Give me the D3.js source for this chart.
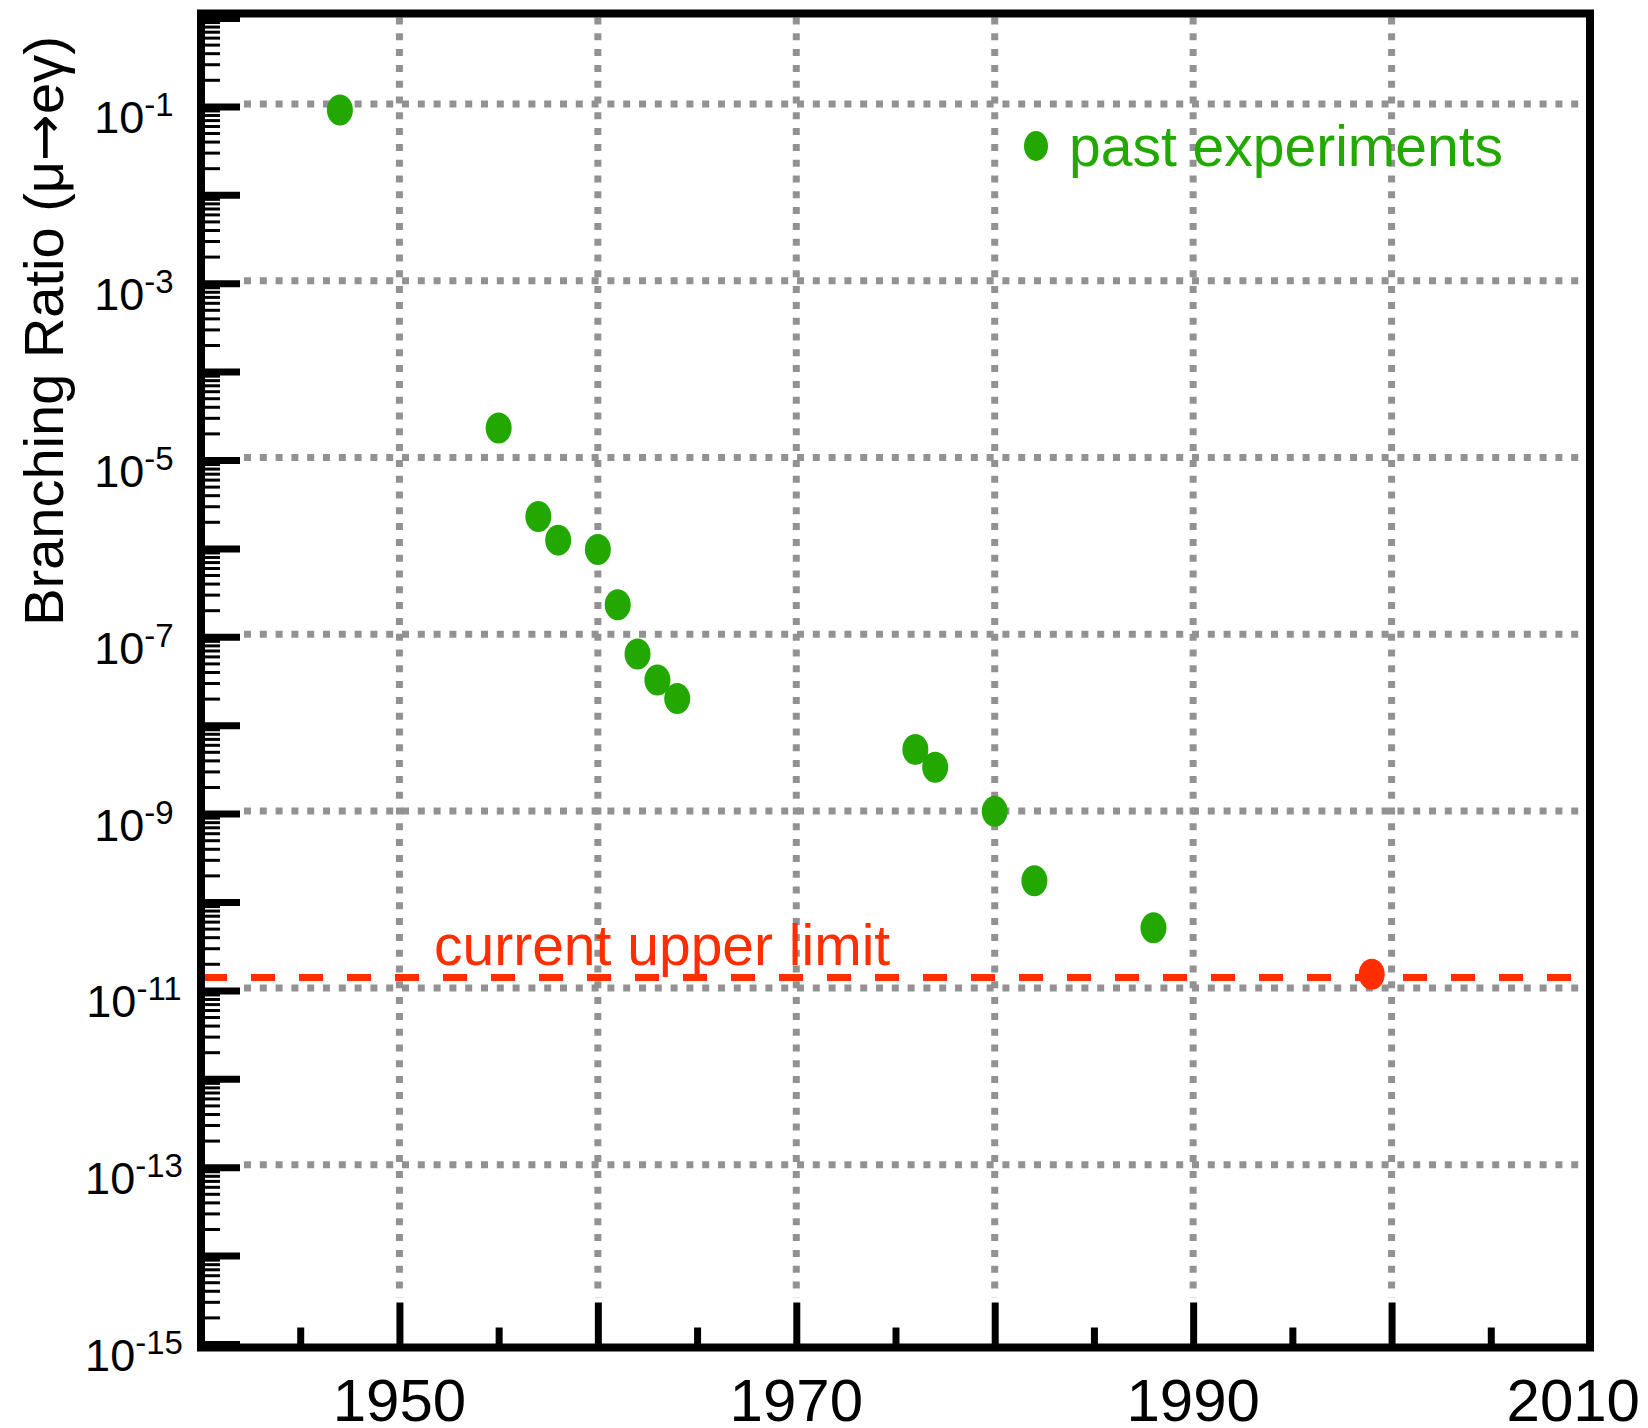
<!DOCTYPE html>
<html>
<head>
<meta charset="utf-8">
<script src="https://cdn.jsdelivr.net/npm/d3@7"></script>
<style>
  body { margin: 0; background: #fff; }
  text { font-family: "Liberation Sans", Arial, Helvetica, sans-serif; }
</style>
</head>
<body>
<svg id="chart"></svg>
<script>
// ============ DATA ============
const years = [1947, 1955, 1957, 1958, 1960, 1961, 1962, 1963, 1964, 1976, 1977, 1980, 1982, 1988];
const ratios = [9.1e-2, 2.3e-5, 2.3e-6, 1.24e-6, 9.7e-7, 2.3e-7, 6.4e-8, 3.25e-8, 2.0e-8, 5.3e-9, 3.35e-9, 1.06e-9, 1.74e-10, 5.1e-11];
const currentYear = [1999];
const currentRatio = [1.52e-11];
const upperLimit = 1.4e-11;

const xMajor = [1950, 1960, 1970, 1980, 1990, 2000];
const xMinor = [1945, 1955, 1965, 1975, 1985, 1995, 2005];
const xLabels = [1950, 1970, 1990, 2010];
const yExpLabels = [-1, -3, -5, -7, -9, -11, -13, -15];

const green = "#22a800", red = "#ff2e00", grid = "#929292";

// ============ LAYOUT ============
const W = 1648, H = 1428;
const x0 = 201, x1 = 1590, yTop = 13.5, yBot = 1347.5;

const svg = d3.select("#chart").attr("width", W).attr("height", H);

const x = d3.scaleLinear().domain([1940, 2010]).range([x0, x1]);
const y = d3.scaleLog().domain([1e-15, 1]).range([1344, 18]);

let yMajor = d3.range(-15, 1).map(e => Math.pow(10, e));
let yMinor = [];
for (let e = -15; e < 0; e++) {
  for (let m = 2; m <= 9; m++) yMinor.push(m * Math.pow(10, e));
}

// ============ GRID ============
const gridG = svg.append("g")
  .attr("stroke", grid).attr("stroke-width", 7).attr("stroke-dasharray", "7 8.8");

gridG.selectAll("line.h").data(yExpLabels.filter(e => e > -15)).enter()
  .append("line")
  .attr("x1", x0 + 43).attr("x2", x1 - 4)
  .attr("y1", d => y(Math.pow(10, d)) - 2.5).attr("y2", d => y(Math.pow(10, d)) - 2.5);

gridG.selectAll("line.v").data(xMajor).enter()
  .append("line")
  .attr("x1", d => x(d)).attr("x2", d => x(d))
  .attr("y1", yTop + 4).attr("y2", yBot - 50);

// ============ UPPER LIMIT LINE ============
svg.append("line")
  .attr("x1", x0 + 2).attr("x2", x1 - 4)
  .attr("y1", y(upperLimit)).attr("y2", y(upperLimit))
  .attr("stroke", red).attr("stroke-width", 7).attr("stroke-dasharray", "24 24");

svg.append("text")
  .attr("x", 434).attr("y", y(upperLimit) - 12)
  .attr("font-size", 57).attr("fill", red)
  .text("current upper limit");

// ============ POINTS ============
const pts = years.map((yr, i) => ({ year: yr, value: ratios[i] }));
svg.append("g").selectAll("ellipse").data(pts).enter()
  .append("ellipse")
  .attr("cx", d => x(d.year)).attr("cy", d => y(d.value))
  .attr("rx", 13).attr("ry", 15.5)
  .attr("fill", green);

svg.append("g").selectAll("ellipse").data(currentYear.map((yr, i) => ({ year: yr, value: currentRatio[i] }))).enter()
  .append("ellipse")
  .attr("cx", d => x(d.year)).attr("cy", d => y(d.value))
  .attr("rx", 13).attr("ry", 15.5)
  .attr("fill", red);

// ============ LEGEND ============
svg.append("ellipse").attr("cx", 1036).attr("cy", 146).attr("rx", 12).attr("ry", 15).attr("fill", green);
svg.append("text").attr("x", 1069).attr("y", 166)
  .attr("font-size", 57).attr("fill", green).text("past experiments");

// ============ AXES ============
function styleTicks(g, w) {
  g.select(".domain").remove();
  g.selectAll(".tick line").attr("stroke", "#000").attr("stroke-width", w);
}

svg.append("g").attr("transform", `translate(${x0},0)`)
  .call(d3.axisRight(y).tickValues(yMinor).tickSize(19).tickFormat(""))
  .call(g => styleTicks(g, 3));

svg.append("g").attr("transform", `translate(${x0},0)`)
  .call(d3.axisRight(y).tickValues(yMajor).tickSize(39).tickFormat(""))
  .call(g => styleTicks(g, 7));

svg.append("g").attr("transform", `translate(0,${yBot})`)
  .call(d3.axisTop(x).tickValues(xMinor).tickSize(20).tickFormat(""))
  .call(g => styleTicks(g, 7));

svg.append("g").attr("transform", `translate(0,${yBot})`)
  .call(d3.axisTop(x).tickValues(xMajor).tickSize(45).tickFormat(""))
  .call(g => styleTicks(g, 7));

// y tick labels with superscript exponents
const yl = svg.append("g").selectAll("text").data(yExpLabels).enter()
  .append("text")
  .attr("x", 134).attr("y", d => y(Math.pow(10, d)) + 27)
  .attr("text-anchor", "middle")
  .attr("font-size", 45).attr("fill", "#000");
yl.append("tspan").text("10");
yl.append("tspan").attr("font-size", 33).attr("dy", -17).text(d => String(d));

// x tick labels
svg.append("g").selectAll("text").data(xLabels).enter()
  .append("text")
  .attr("x", d => d === 2010 ? x(d) + 50 : x(d))
  .attr("y", 1421)
  .attr("text-anchor", d => d === 2010 ? "end" : "middle")
  .attr("font-size", 60).attr("fill", "#000")
  .text(d => d);

// axis title
const title = svg.append("text")
  .attr("transform", "translate(63,331) rotate(-90)")
  .attr("text-anchor", "middle")
  .attr("font-size", 56).attr("fill", "#000");
title.append("tspan").text("Branching Ratio (μ");
title.append("tspan").attr("font-family", "DejaVu Sans").attr("font-size", 56).text("→");
title.append("tspan").text("eγ)");

// frame
svg.append("rect")
  .attr("x", x0).attr("y", yTop).attr("width", x1 - x0).attr("height", yBot - yTop)
  .attr("fill", "none").attr("stroke", "#000").attr("stroke-width", 8);
</script>
</body>
</html>
